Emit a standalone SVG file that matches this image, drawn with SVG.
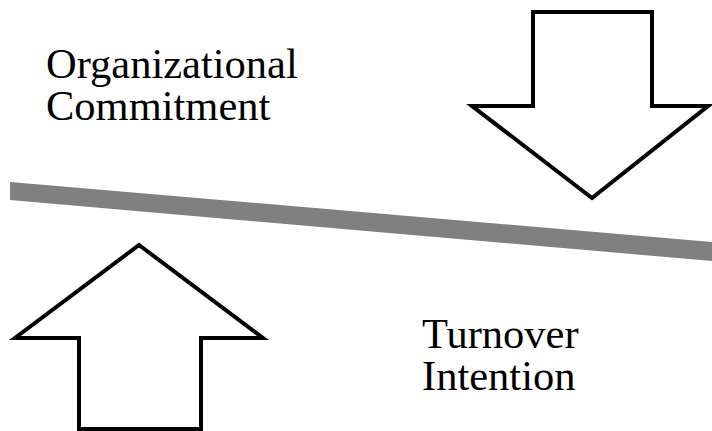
<svg xmlns="http://www.w3.org/2000/svg" width="712" height="431" viewBox="0 0 712 431">
<style>
.arrow{fill:#fff;stroke:#000;stroke-width:4;stroke-linejoin:miter}
.lbl{font-family:"Liberation Serif","Times New Roman",serif;font-size:42.5px;fill:#000}
</style>
<rect width="712" height="431" fill="#fff"/>
<g id="bar">
<polygon points="10,182 712,242 712,261 10,200" fill="#808080"/>
</g>
<g id="down-arrow">
<polygon class="arrow" points="533,12 652,12 652,106 708,106 592,198 472,106 533,106"/>
</g>
<g id="up-arrow">
<polygon class="arrow" points="139,245 263,338 201,338 201,429 79,429 79,338 15,338"/>
</g>
<g id="organizational-commitment">
<text class="lbl" x="46" y="78">Organizational</text>
<text class="lbl" x="46" y="120">Commitment</text>
</g>
<g id="turnover-intention">
<text class="lbl" x="422" y="348">Turnover</text>
<text class="lbl" x="422" y="390">Intention</text>
</g>
<g id="connectors"></g>
</svg>
